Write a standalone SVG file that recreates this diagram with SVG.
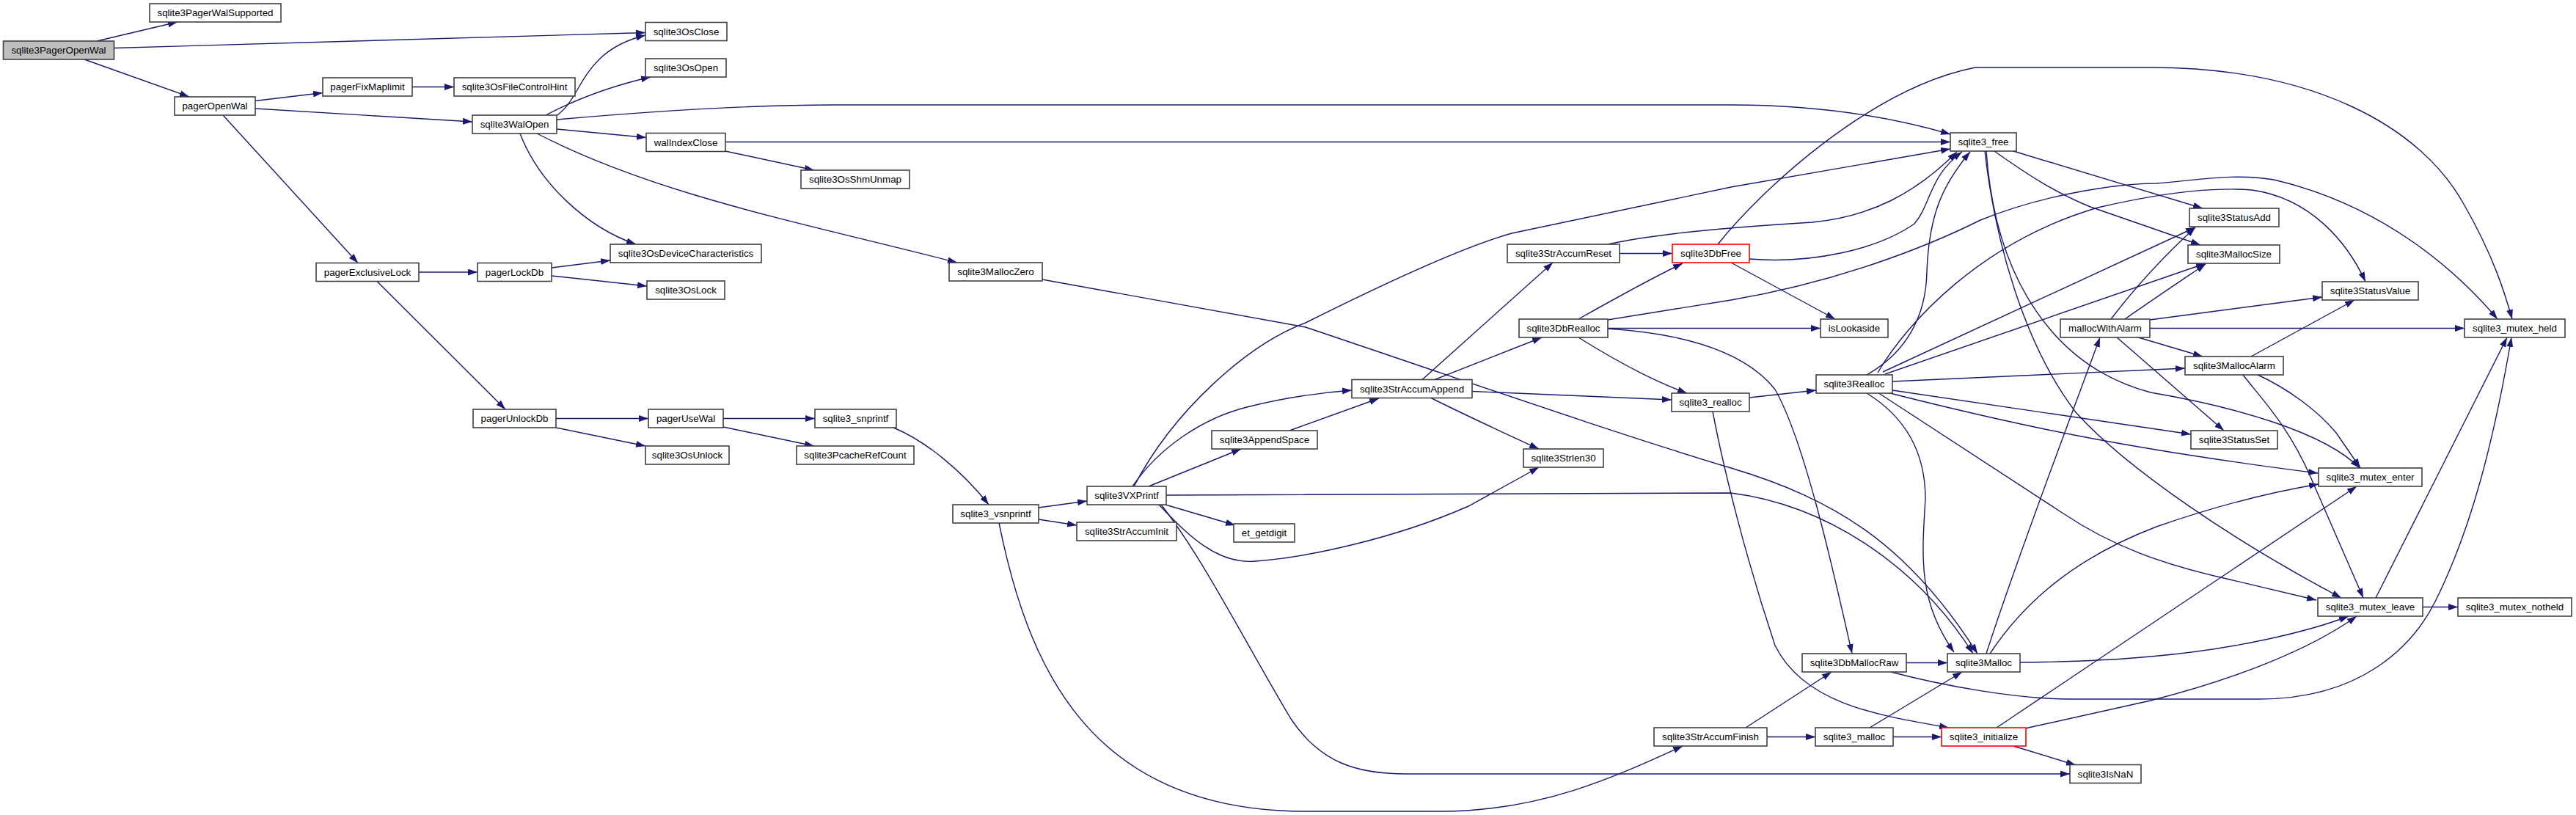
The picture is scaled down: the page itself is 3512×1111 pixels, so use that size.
<svg xmlns="http://www.w3.org/2000/svg" width="3512" height="1111" viewBox="0 0 3512 1111">
<style>
.n rect{fill:#ffffff;stroke:#404040;stroke-width:1.6}
.n.red rect{stroke:#ff0000}
.n.root rect{fill:#bfbfbf}
.n text{font-family:"Liberation Sans",Arial,Helvetica,sans-serif;font-size:13.33px;text-anchor:middle;fill:#000000}
#edges path{fill:none;stroke:#191970;stroke-width:1.4;marker-end:url(#arr)}
</style>
<defs>
<marker id="arr" markerUnits="userSpaceOnUse" markerWidth="14" markerHeight="10" viewBox="0 0 14 10" refX="13" refY="4.5" orient="auto">
<path d="M0,0 L13,4.5 L0,9 z" fill="#191970"/>
</marker>
</defs>
<rect x="0" y="0" width="3512" height="1111" fill="#ffffff"/>
<g id="edges">
<path d="M132,56 L242,30"/>
<path d="M155.5,65.5 L880,44.5"/>
<path d="M115,81 L258,132"/>
<path d="M348,137.5 L440,126.5"/>
<path d="M348,148 L644,166"/>
<path d="M304,157 L488,358.5"/>
<path d="M562,118.5 L619,118.5"/>
<path d="M758,158 C795,135 790,70 880,48"/>
<path d="M743,157.5 C780,138 830,118 887,105"/>
<path d="M759,163 C850,155 1000,143 1138,143 L2360,143 C2480,143 2580,160 2659,183"/>
<path d="M759,176 L881,187.5"/>
<path d="M709,182 C735,250 800,310 867,333"/>
<path d="M732,182 C900,268 1100,305 1305,358"/>
<path d="M989,193.5 L2659,193.5"/>
<path d="M989,206 L1110,232"/>
<path d="M571,371 L651,371"/>
<path d="M514,383.5 L689,558"/>
<path d="M752,365 L832,355"/>
<path d="M752,376 L882,390"/>
<path d="M758,570.5 L884,570.5"/>
<path d="M758,583 L880,608"/>
<path d="M986,570.5 L1111,570.5"/>
<path d="M986,582 L1110,608"/>
<path d="M1218,583 C1260,600 1310,640 1348,688"/>
<path d="M1416,692 L1482,683"/>
<path d="M1416,708 L1468,716"/>
<path d="M1362,713 C1400,900 1480,1106 1780,1106 L1965,1106 C2100,1106 2200,1060 2294,1017"/>
<path d="M1421,381 L1780,446 C2000,520 2200,590 2360,638 C2500,680 2600,740 2696,891"/>
<path d="M1546,663 C1600,560 1700,470 1780,440 C1900,380 2000,335 2061,318 L2360,255 L2659,203"/>
<path d="M1544,663 C1580,610 1640,570 1700,555 C1740,545 1790,536 1843,532"/>
<path d="M1566,663 L1692,612"/>
<path d="M1590,675 L2360,672 C2500,690 2620,780 2690,891"/>
<path d="M1589,688 L1684,716"/>
<path d="M1580,688 C1620,730 1660,770 1712,765 C1780,760 1900,735 2002,690 L2098,637"/>
<path d="M1583,688 C1640,760 1700,880 1760,980 C1800,1040 1850,1055 1917,1055 L2822,1055"/>
<path d="M1758,587 L1880,543"/>
<path d="M1939,517.5 L2117,358"/>
<path d="M1956,517.5 L2102,460"/>
<path d="M2007,533.5 L2279,545"/>
<path d="M1950,542 C2000,567 2050,590 2098,612"/>
<path d="M2208,345.5 L2280,345.5"/>
<path d="M2192,333 C2260,318 2360,310 2471,303 C2550,295 2610,265 2668,207"/>
<path d="M2385,353 C2470,360 2560,340 2610,305 C2632,280 2630,240 2675,207"/>
<path d="M2360,358 L2502,435"/>
<path d="M2342,333 C2400,260 2550,120 2693,92 L2932,92 C3150,92 3300,170 3360,280 C3400,350 3415,400 3425,435"/>
<path d="M2152,435 C2200,408 2250,380 2294,359"/>
<path d="M2192,447.5 L2482,447.5"/>
<path d="M2152,460 C2200,490 2250,518 2300,536"/>
<path d="M2192,448 C2300,455 2380,480 2420,531 C2460,600 2500,780 2525,891"/>
<path d="M2192,436 L2360,409 C2500,385 2620,340 2700,300 C2800,260 2900,250 2940,250 C3000,245 3050,236 3100,245 C3250,280 3350,370 3405,435"/>
<path d="M2385,542 L2476,532"/>
<path d="M2335,561 C2350,640 2380,760 2420,880 C2460,960 2560,975 2657,992"/>
<path d="M2380,992 L2497,916"/>
<path d="M2409,1004.5 L2475,1004.5"/>
<path d="M2745,206 L3003,284"/>
<path d="M2719,206 C2760,235 2800,262 2850,282 L3000,334"/>
<path d="M2708,206 C2720,380 2800,500 2932,535 C3050,555 3170,590 3217,638"/>
<path d="M2706,206 C2720,330 2760,470 2830,562 C2900,640 3050,740 3192,815"/>
<path d="M2545,511 C2600,480 2626,430 2627,370 C2630,290 2650,250 2686,207"/>
<path d="M2560,508 C2600,440 2700,330 2860,283 C2950,262 3020,255 3070,259 C3150,270 3200,330 3225,384"/>
<path d="M2567,507 L2993,310"/>
<path d="M2570,510 L3007,359"/>
<path d="M2573,535 C2750,580 2900,612 3160,645"/>
<path d="M2560,535 L2813,700 C2880,745 2950,770 3040,790 L3158,818"/>
<path d="M2580,532 L2987,592"/>
<path d="M2580,520 L2979,502"/>
<path d="M2545,536 C2600,570 2625,620 2625,680 C2620,760 2615,820 2664,889"/>
<path d="M2878,435 C2920,380 2960,340 2993,310"/>
<path d="M2897,435 C2940,405 2970,385 3007,360"/>
<path d="M2931,436 L3166,405"/>
<path d="M2931,447.5 L3360,447.5"/>
<path d="M2912,459 L3003,486"/>
<path d="M2885,459 L3032,587"/>
<path d="M3069,486 L3210,409"/>
<path d="M3058,511 C3080,540 3120,580 3150,650 L3222,815"/>
<path d="M3076,510 C3120,530 3160,560 3185,590 L3218,638"/>
<path d="M2708,891 C2750,760 2830,550 2863,460"/>
<path d="M2713,891 C2760,820 2830,760 2940,718 C3020,690 3090,672 3161,660"/>
<path d="M2754,903 C2850,902 2900,898 2932,895 C3050,885 3150,860 3202,840"/>
<path d="M2599,903.5 L2655,903.5"/>
<path d="M2578,916 C2650,935 2750,953 2822,953 L3080,953 C3220,953 3290,880 3320,820 C3370,720 3400,600 3424,460"/>
<path d="M2581,1004.5 L2647,1004.5"/>
<path d="M2549,992 L2675,916"/>
<path d="M2745,1017 L2830,1043"/>
<path d="M2722,992 L3213,663"/>
<path d="M2761,993 L2932,955 C3050,925 3150,885 3213,840"/>
<path d="M3239,815 L3418,460"/>
<path d="M3303,827.5 L3351,827.5"/>
</g>
<g id="n1" class="n root"><rect x="4.5" y="56" width="151" height="25"/><text x="80" y="73">sqlite3PagerOpenWal</text></g>
<g id="n2" class="n"><rect x="204" y="5" width="179" height="25"/><text x="293.5" y="22">sqlite3PagerWalSupported</text></g>
<g id="n3" class="n"><rect x="238" y="132" width="110" height="25"/><text x="293" y="149">pagerOpenWal</text></g>
<g id="n4" class="n"><rect x="440" y="106" width="122" height="25"/><text x="501" y="123">pagerFixMaplimit</text></g>
<g id="n5" class="n"><rect x="619" y="106" width="165" height="25"/><text x="701.5" y="123">sqlite3OsFileControlHint</text></g>
<g id="n6" class="n"><rect x="644" y="157" width="115" height="25"/><text x="701.5" y="174">sqlite3WalOpen</text></g>
<g id="n7" class="n"><rect x="880" y="30.5" width="111" height="25"/><text x="935.5" y="47.5">sqlite3OsClose</text></g>
<g id="n8" class="n"><rect x="880" y="80" width="110" height="25"/><text x="935" y="97">sqlite3OsOpen</text></g>
<g id="n9" class="n"><rect x="881" y="181.5" width="108" height="25"/><text x="935" y="198.5">walIndexClose</text></g>
<g id="n10" class="n"><rect x="1092" y="232" width="148" height="25"/><text x="1166" y="249">sqlite3OsShmUnmap</text></g>
<g id="n11" class="n"><rect x="832" y="333" width="206" height="25"/><text x="935" y="350">sqlite3OsDeviceCharacteristics</text></g>
<g id="n12" class="n"><rect x="882" y="383" width="106" height="25"/><text x="935" y="400">sqlite3OsLock</text></g>
<g id="n13" class="n"><rect x="1294" y="358" width="127" height="25"/><text x="1357.5" y="375">sqlite3MallocZero</text></g>
<g id="n14" class="n"><rect x="431" y="358.5" width="140" height="25"/><text x="501" y="375.5">pagerExclusiveLock</text></g>
<g id="n15" class="n"><rect x="651" y="358.5" width="101" height="25"/><text x="701.5" y="375.5">pagerLockDb</text></g>
<g id="n16" class="n"><rect x="645" y="558" width="113" height="25"/><text x="701.5" y="575">pagerUnlockDb</text></g>
<g id="n17" class="n"><rect x="884" y="558" width="102" height="25"/><text x="935" y="575">pagerUseWal</text></g>
<g id="n18" class="n"><rect x="880" y="608" width="114" height="25"/><text x="937" y="625">sqlite3OsUnlock</text></g>
<g id="n19" class="n"><rect x="1111" y="558" width="111" height="25"/><text x="1166.5" y="575">sqlite3_snprintf</text></g>
<g id="n20" class="n"><rect x="1086" y="608" width="160" height="25"/><text x="1166" y="625">sqlite3PcacheRefCount</text></g>
<g id="n21" class="n"><rect x="1299" y="688" width="117" height="25"/><text x="1357.5" y="705">sqlite3_vsnprintf</text></g>
<g id="n22" class="n"><rect x="1482" y="663" width="108" height="25"/><text x="1536" y="680">sqlite3VXPrintf</text></g>
<g id="n23" class="n"><rect x="1468" y="712" width="136" height="25"/><text x="1536" y="729">sqlite3StrAccumInit</text></g>
<g id="n24" class="n"><rect x="1652" y="587" width="144" height="25"/><text x="1724" y="604">sqlite3AppendSpace</text></g>
<g id="n25" class="n"><rect x="1682" y="714" width="83" height="25"/><text x="1723.5" y="731">et_getdigit</text></g>
<g id="n26" class="n"><rect x="2055" y="333" width="153" height="25"/><text x="2131.5" y="350">sqlite3StrAccumReset</text></g>
<g id="n27" class="n red"><rect x="2280" y="333" width="105" height="25"/><text x="2332.5" y="350">sqlite3DbFree</text></g>
<g id="n28" class="n"><rect x="2071" y="435" width="121" height="25"/><text x="2131.5" y="452">sqlite3DbRealloc</text></g>
<g id="n29" class="n"><rect x="1843" y="517.5" width="164" height="25"/><text x="1925" y="534.5">sqlite3StrAccumAppend</text></g>
<g id="n30" class="n"><rect x="2279" y="536" width="106" height="25"/><text x="2332" y="553">sqlite3_realloc</text></g>
<g id="n31" class="n"><rect x="2077" y="612" width="109" height="25"/><text x="2131.5" y="629">sqlite3Strlen30</text></g>
<g id="n32" class="n"><rect x="2255" y="992" width="154" height="25"/><text x="2332" y="1009">sqlite3StrAccumFinish</text></g>
<g id="n33" class="n"><rect x="2659" y="181" width="90" height="25"/><text x="2704" y="198">sqlite3_free</text></g>
<g id="n34" class="n"><rect x="2482" y="435" width="92" height="25"/><text x="2528" y="452">isLookaside</text></g>
<g id="n35" class="n"><rect x="2809" y="435" width="122" height="25"/><text x="2870" y="452">mallocWithAlarm</text></g>
<g id="n36" class="n"><rect x="2476" y="511" width="104" height="25"/><text x="2528" y="528">sqlite3Realloc</text></g>
<g id="n37" class="n"><rect x="2457" y="891" width="142" height="25"/><text x="2528" y="908">sqlite3DbMallocRaw</text></g>
<g id="n38" class="n"><rect x="2655" y="891" width="99" height="25"/><text x="2704.5" y="908">sqlite3Malloc</text></g>
<g id="n39" class="n"><rect x="2475" y="992" width="106" height="25"/><text x="2528" y="1009">sqlite3_malloc</text></g>
<g id="n40" class="n red"><rect x="2647" y="992" width="115" height="25"/><text x="2704.5" y="1009">sqlite3_initialize</text></g>
<g id="n41" class="n"><rect x="2822" y="1042.5" width="97" height="25"/><text x="2870.5" y="1059.5">sqlite3IsNaN</text></g>
<g id="n42" class="n"><rect x="2985" y="284" width="122" height="25"/><text x="3046" y="301">sqlite3StatusAdd</text></g>
<g id="n43" class="n"><rect x="2983" y="334" width="125" height="25"/><text x="3045.5" y="351">sqlite3MallocSize</text></g>
<g id="n44" class="n"><rect x="3166" y="384" width="131" height="25"/><text x="3231.5" y="401">sqlite3StatusValue</text></g>
<g id="n45" class="n"><rect x="3360" y="435" width="137" height="25"/><text x="3428.5" y="452">sqlite3_mutex_held</text></g>
<g id="n46" class="n"><rect x="2979" y="486" width="134" height="25"/><text x="3046" y="503">sqlite3MallocAlarm</text></g>
<g id="n47" class="n"><rect x="2987" y="587" width="118" height="25"/><text x="3046" y="604">sqlite3StatusSet</text></g>
<g id="n48" class="n"><rect x="3161" y="638" width="141" height="25"/><text x="3231.5" y="655">sqlite3_mutex_enter</text></g>
<g id="n49" class="n"><rect x="3160" y="815" width="143" height="25"/><text x="3231.5" y="832">sqlite3_mutex_leave</text></g>
<g id="n50" class="n"><rect x="3351" y="815" width="155" height="25"/><text x="3428.5" y="832">sqlite3_mutex_notheld</text></g>
</svg>
